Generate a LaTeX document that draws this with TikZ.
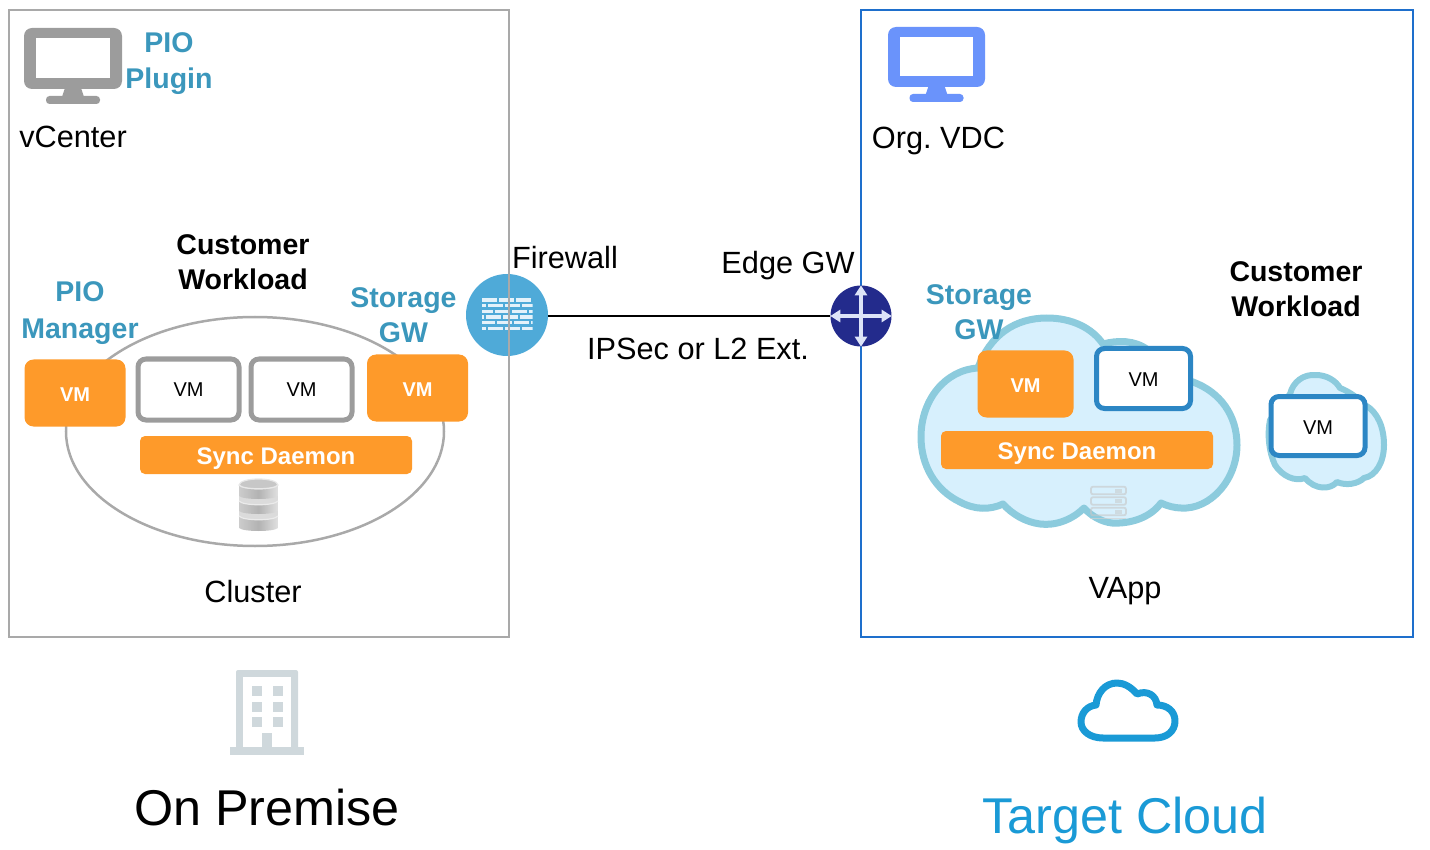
\documentclass[tikz,border=0pt]{standalone}
\usepackage{fontspec}
\setmainfont{Liberation Sans}
\frenchspacing
\usetikzlibrary{arrows.meta,shapes.geometric}
\definecolor{lblue}{HTML}{3B97BC}
\definecolor{vmor}{HTML}{FE9A2A}
\definecolor{gline}{HTML}{A9A9A9}
\definecolor{gvm}{HTML}{9C9C9C}
\definecolor{bbox}{HTML}{1E6FCC}
\definecolor{bvm}{HTML}{2C86C4}
\definecolor{cloudl}{HTML}{8CCBDD}
\definecolor{cloudf}{HTML}{D7F0FD}
\definecolor{mon}{HTML}{6A93FB}
\definecolor{bld}{HTML}{CFD8DC}
\definecolor{tcl}{HTML}{1A9AD6}
\definecolor{fwc}{HTML}{4FAAD8}
\definecolor{brick}{HTML}{E4F2FA}
\definecolor{edgec}{HTML}{232B8C}
\definecolor{edgea}{HTML}{DDE4F8}
\tikzset{
  x=1pt,y=-1pt,
  lab/.style={inner sep=0pt,outer sep=0pt,anchor=base,text=black,font=\fontsize{30.7}{35}\selectfont},
  biglab/.style={lab,font=\fontsize{50.3}{55}\selectfont},
  blab/.style={inner sep=0pt,outer sep=0pt,align=center,text=black,font=\fontsize{28.5}{35}\selectfont\bfseries},
  clab/.style={blab,text=lblue},
  orvm/.style={rectangle,rounded corners=9pt,fill=vmor,text=white,inner sep=0pt,text height=16.5pt,text depth=0pt,font=\fontsize{20}{22}\selectfont\bfseries},
  gryvm/.style={rectangle,rounded corners=8pt,draw=gvm,line width=5pt,fill=white,text=black,inner sep=0pt,font=\fontsize{20}{22}\selectfont},
  bluvm/.style={gryvm,draw=bvm},
  syncbar/.style={rectangle,rounded corners=5pt,fill=vmor,text=white,inner sep=0pt,minimum width=272pt,minimum height=38pt,text height=20pt,text depth=2pt,font=\fontsize{24}{26}\selectfont\bfseries},
  cloudshape/.style={draw=cloudl,fill=cloudf,line width=7pt,line join=round},
  areabox/.style={rectangle,inner sep=0pt},
  edgearrow/.style={edgea,line width=3.4pt,{Triangle[length=10pt,width=12pt]}-{Triangle[length=10pt,width=12pt]}},
}
\begin{document}
\begin{tikzpicture}
\useasboundingbox (0,0) rectangle (1430,850);
% firewall (the box line shows over it)
\node[circle,fill=fwc,inner sep=0pt,minimum size=82pt] (fw) at (507,315) {};
\begin{scope}
\clip (482,296) rectangle (532.5,332);
\foreach \y/\ph in {300/0,305.7/11,311.3/4,317/13,322.7/2,328.3/11}{
  \draw[brick,line width=3.4pt,dash pattern=on 14.5pt off 2.5pt,dash phase=\ph pt] (482,\y) -- (534,\y);
}
\end{scope}
% area boxes
\node[areabox,draw=gline,line width=2.5pt,minimum width=500pt,minimum height=627pt] (onprem) at (259,323.5) {};
\node[areabox,draw=bbox,line width=2pt,minimum width=552pt,minimum height=627pt] (cloudbox) at (1137,323.5) {};
% cluster
\node[ellipse,draw=gline,line width=2.5pt,minimum width=378pt,minimum height=229pt,inner sep=0pt] (cluster) at (255,431.5) {};
% vm nodes left
\node[orvm,minimum width=101pt,minimum height=67pt] (pvm) at (75,393) {VM};
\node[gryvm,minimum width=101pt,minimum height=61pt] (w1) at (188.5,389.5) {VM};
\node[gryvm,minimum width=101pt,minimum height=61pt] (w2) at (301.5,389.5) {VM};
\node[orvm,minimum width=101pt,minimum height=67pt] (svm) at (417.5,388) {VM};
\node[syncbar] (sd1) at (276,455) {Sync Daemon};
% database
\fill[black!14] (239,485) rectangle (278,526);
\foreach \ya/\yb in {481/497,497/512,512/529}{
  \path[left color=black!20,right color=black!12,middle color=black!30]
     (239,\ya+4) -- (239,\yb-1) .. controls (243,\yb+3) and (274,\yb+3) .. (278,\yb-1) -- (278,\ya+4)
     .. controls (274,\ya+9) and (243,\ya+9) .. (239,\ya+4) -- cycle;
  \draw[black!8,line width=1.2pt] (239,\ya+4) .. controls (243,\ya+9) and (274,\ya+9) .. (278,\ya+4);
}
\path[fill=black!22,draw=black!9,line width=1.2pt] (239,485) .. controls (240,477) and (277,477) .. (278,485) .. controls (274,490) and (243,490) .. (239,485) -- cycle;
% big cloud
\path[cloudshape] (978,368)
  .. controls (990,335) and (1015,318) .. (1047,318)
  .. controls (1072,318) and (1092,328) .. (1103,344)
  .. controls (1118,340) and (1135,340) .. (1148,350)
  .. controls (1165,370) and (1180,378) .. (1193,382)
  .. controls (1220,392) and (1237,415) .. (1237,445)
  .. controls (1237,480) and (1210,510) .. (1181,508)
  .. controls (1175,508) and (1167,506) .. (1161,503)
  .. controls (1150,518) and (1130,524) .. (1112,523)
  .. controls (1102,522) and (1091,516) .. (1084,508)
  .. controls (1072,520) and (1055,526) .. (1040,524)
  .. controls (1025,522) and (1012,514) .. (1003,504)
  .. controls (990,510) and (975,510) .. (960,502)
  .. controls (935,490) and (921,465) .. (921,437)
  .. controls (921,400) and (945,370) .. (978,368) -- cycle;
% server icon
\foreach \y in {490.5,501,511.5}{
  \draw[black!22,opacity=.6,line width=1.8pt,rounded corners=2pt] (1091,\y-3.8) rectangle (1126,\y+3.8);
  \fill[black!22,opacity=.5] (1115,\y-2) rectangle (1122,\y+2);
}
\draw[black!18,opacity=.7,line width=1.5pt] (1090,518.5) -- (1126,518.5);
\node[orvm,minimum width=96pt,minimum height=67pt] (cvm) at (1025.5,384) {VM};
\node[bluvm,minimum width=94pt,minimum height=60pt,text height=16pt,text depth=0pt] (bvm1) at (1143.5,378.5) {VM};
\node[syncbar] (sd2) at (1077,450) {Sync Daemon};
% small cloud
\path[cloudshape,line width=6pt] (1290,394)
  .. controls (1293,382) and (1303,374) .. (1316,375)
  .. controls (1327,375) and (1336,381) .. (1340,388)
  .. controls (1350,392) and (1358,398) .. (1365,405)
  .. controls (1378,412) and (1384,428) .. (1384,445)
  .. controls (1384,462) and (1376,476) .. (1364,478)
  .. controls (1358,484) and (1346,486) .. (1337,482)
  .. controls (1330,490) and (1315,490) .. (1305,478)
  .. controls (1295,482) and (1282,476) .. (1275,465)
  .. controls (1269,452) and (1267,435) .. (1270,420) -- cycle;
\node[bluvm,minimum width=94pt,minimum height=59pt,text height=17pt,text depth=0pt] (bvm2) at (1318,426) {VM};
% edge gateway
\node[circle,fill=edgec,inner sep=0pt,minimum size=61pt] (edge) at (861,316) {};
\draw[edgearrow] (edge.west) -- (edge.east);
\draw[edgearrow] (edge.north) -- (edge.south);
% connector
\draw[black,line width=1.6pt] (fw.east |- edge.west) -- (edge.west);
% monitors
\foreach \x/\y/\c/\w/\h in {24/28/gvm/98/61,888/27/mon/97/60}{
  \fill[\c,rounded corners=8pt] (\x,\y) rectangle ++(\w,\h);
  \fill[white] (\x+11.5,\y+10.5) rectangle ++(\w-23.5,\h-21);
  \fill[\c] (\x+\w/2-8,\y+\h-1) -- (\x+\w/2+8,\y+\h-1) -- (\x+\w/2+11,\y+\h+8) -- (\x+\w/2-11,\y+\h+8) -- cycle;
  \fill[\c,rounded corners=3.5pt] (\x+\w/2-27,\y+\h+7) rectangle ++(54,8);
}
% building
\fill[bld,rounded corners=2pt] (236,670) rectangle (298,750);
\fill[white] (243,677) rectangle (291,750);
\fill[bld] (230,747) rectangle (304,755);
\fill[bld] (262,733) rectangle (272,748);
\foreach \xa in {252,273}{\foreach \ya in {686,702,717}{\fill[bld] (\xa,\ya) rectangle ++(10,10);}}
% target cloud icon
\path[draw=tcl,line width=7pt,line join=round,fill=white] (1103,738) -- (1155,738)
  .. controls (1167,738) and (1175,731) .. (1175,721)
  .. controls (1175,711) and (1167,705) .. (1157,705)
  .. controls (1156,695) and (1147,690) .. (1137,694)
  .. controls (1131,687) and (1124,683) .. (1117,683)
  .. controls (1105,683) and (1097,693) .. (1096,705)
  .. controls (1087,706) and (1081,713) .. (1081,722)
  .. controls (1081,731) and (1090,738) .. (1103,738) -- cycle;
% labels
\node[clab] (plugin) at (169,63.5) {PIO\\[1.5pt]Plugin};
\node[lab] (vcenter) at (73,148) {vCenter};
\node[lab] (orgvdc) at (938.5,149) {Org. VDC};
\node[blab] (cw1) at (243,262) {Customer\\Workload};
\node[blab] (cw2) at (1296,289) {Customer\\Workload};
\node[clab] (pmgr) at (80,313.5) {PIO\\[2pt]Manager};
\node[clab] (sgw1) at (403.5,315) {Storage\\GW};
\node[clab] (sgw2) at (979,312) {Storage\\GW};
\node[lab] (fwl) at (565,269) {Firewall};
\node[lab] (edl) at (788,274) {Edge GW};
\node[lab] (ipsec) at (698,359.5) {IPSec or L2 Ext.};
\node[lab] (clusterl) at (253,602) {Cluster};
\node[lab] (vappl) at (1125,598) {VApp};
\node[biglab] (onpl) at (267,825) {On Premise};
\node[biglab,text=tcl] (tcll) at (1125,833) {Target Cloud};
\end{tikzpicture}
\end{document}
